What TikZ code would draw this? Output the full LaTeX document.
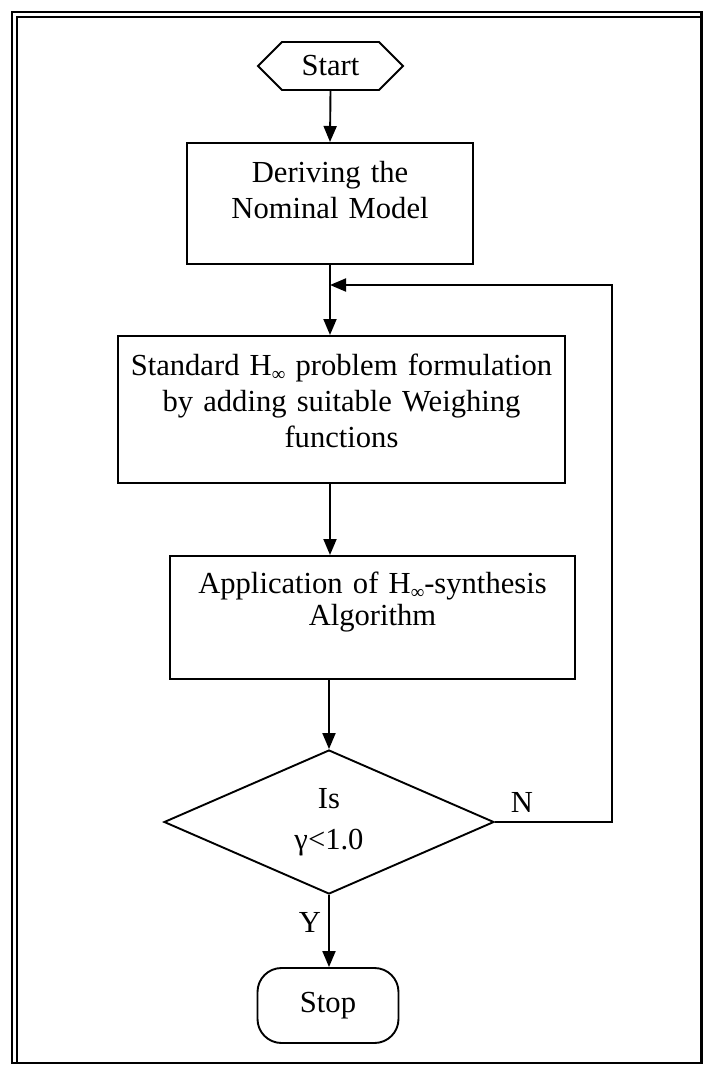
\documentclass[tikz,border=0pt]{standalone}
\usepackage{fontspec}
\setmainfont{Liberation Serif}
\usetikzlibrary{shapes.geometric,shapes.symbols,arrows.meta}
\newcommand{\myHinf}{H\raisebox{-2.5pt}{\fontsize{9.5pt}{9.5pt}\selectfont ∞}}
\begin{document}
\begin{tikzpicture}[x=0.5pt,y=-0.5pt,
  every node/.style={font=\fontsize{15.3pt}{18pt}\selectfont},
  ln/.style={line width=0.95pt},
  box/.style={draw,ln,inner sep=0pt,align=center,anchor=north},
  arr/.style={ln,-{Triangle[length=8pt,width=6.5pt]}},
  frame/.style={line width=1.3pt}]
\useasboundingbox (0,0) rectangle (703,1067);
% frame
\draw[frame] (12,1063) -- (12,12) -- (701.5,12) -- (701.5,1063) -- cycle;
\draw[frame] (17,1063) -- (17,17) -- (701.5,17);
% nodes
\node[draw,ln,signal,signal to=west and east,signal pointer angle=90,
  minimum width=72.5pt,minimum height=24pt,inner sep=0pt] (start) at (330.5,66) {Start};
\node[box,text width=143pt,text height=20pt,text depth=40.5pt] (box1) at (330,142)
  {Deriving the\\Nominal Model};
\node[box,text width=223.5pt,text height=20pt,text depth=53.5pt] (box2) at (341.5,335)
  {Standard \myHinf{} problem formulation\\by adding suitable Weighing\\functions};
\node[box,text width=202.5pt,text height=19pt,text depth=42.5pt,
  font=\fontsize{15.3pt}{16pt}\selectfont] (box3) at (372.5,555)
  {Application of \myHinf-synthesis\hspace*{21pt}\\Algorithm\hspace*{21pt}};
\node[draw,ln,diamond,aspect=2.3,minimum width=165pt,minimum height=72pt,inner sep=0pt,
  align=center,font=\fontsize{15.3pt}{20.5pt}\selectfont] (dia) at (329,822) {Is\\γ<1.0};
\node[draw,ln,rounded corners=12pt,minimum width=70.5pt,minimum height=37.5pt] (stop)
  at (328,1005.5) {Stop};
\node (ylab) at (310,922) {Y};
\node (nlab) at (522,802) {N};
\coordinate (join) at (330,285);
\coordinate (rc) at (612,285);
% connectors
\draw[arr] (start.south) -- (box1.north);
\draw[arr] (box1.south) -- (box1.south |- box2.north);
\draw[arr] (box1.south |- box2.south) -- (box1.south |- box3.north);
\draw[arr] (dia.north |- box3.south) -- (dia.north);
\draw[arr] (dia.south) -- (dia.south |- stop.north);
\draw[arr] (dia.east) -| (rc) -- (join);
\end{tikzpicture}
\end{document}
